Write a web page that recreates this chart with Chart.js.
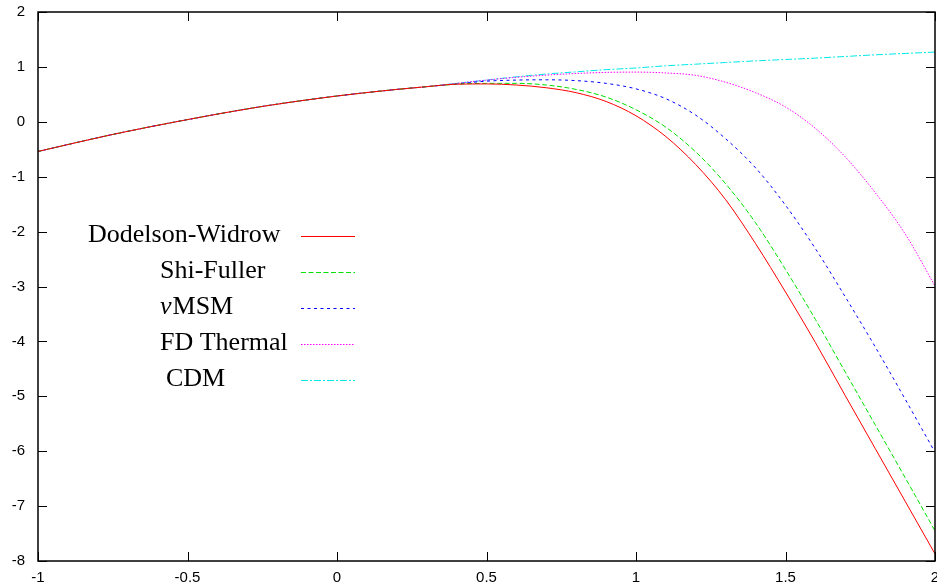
<!DOCTYPE html>
<html>
<head>
<meta charset="utf-8">
<script src="https://cdn.jsdelivr.net/npm/chart.js@4"></script>
<style>
  body { margin: 0; background: #fff; }
  canvas { display: block; }
</style>
</head>
<body>
<canvas id="spectrumChart" width="937" height="586"></canvas>
<script>
/* ---------- DATA ---------- */
const xValues = [-1, -0.75, -0.5, -0.25, 0, 0.2, 0.3, 0.4, 0.5, 0.6, 0.7, 0.8, 0.9, 1.0, 1.1, 1.2, 1.3, 1.4, 1.5, 1.6, 1.7, 1.8, 1.9, 2.0];

const dodelsonWidrow = [-0.54, -0.23, 0.04, 0.28, 0.47, 0.59, 0.64, 0.685, 0.69, 0.67, 0.62, 0.53, 0.37, 0.11, -0.27, -0.78, -1.42, -2.22, -3.10, -4.02, -4.99, -5.95, -6.91, -7.87];
const shiFuller      = [-0.54, -0.23, 0.04, 0.28, 0.47, 0.59, 0.64, 0.685, 0.70, 0.70, 0.67, 0.59, 0.45, 0.22, -0.10, -0.55, -1.13, -1.84, -2.69, -3.60, -4.56, -5.52, -6.48, -7.45];
const nuMSM          = [-0.54, -0.23, 0.04, 0.28, 0.47, 0.59, 0.64, 0.69, 0.74, 0.76, 0.765, 0.75, 0.70, 0.60, 0.42, 0.12, -0.31, -0.84, -1.52, -2.31, -3.19, -4.10, -5.05, -6.02];
const fdThermal      = [-0.54, -0.23, 0.04, 0.28, 0.47, 0.59, 0.64, 0.70, 0.76, 0.81, 0.85, 0.88, 0.90, 0.905, 0.89, 0.845, 0.72, 0.53, 0.27, -0.12, -0.64, -1.29, -2.04, -2.99];
const cdm            = [-0.54, -0.23, 0.04, 0.28, 0.47, 0.59, 0.64, 0.70, 0.76, 0.82, 0.87, 0.91, 0.95, 0.98, 1.02, 1.05, 1.08, 1.11, 1.135, 1.16, 1.19, 1.22, 1.245, 1.27];

const seriesLabels = ["Dodelson-Widrow", "Shi-Fuller", "\u03BDMSM", "FD Thermal", "CDM"];
const xTicks = [-1, -0.5, 0, 0.5, 1, 1.5, 2];
const yTicks = [-8, -7, -6, -5, -4, -3, -2, -1, 0, 1, 2];

/* ---------- HELPERS ---------- */
function toPoints(ys) {
  return xValues.map((x, i) => ({ x: x, y: ys[i] }));
}

function makeSet(label, ys, color, dash) {
  return {
    label: label,
    data: toPoints(ys),
    borderColor: color,
    borderWidth: 1,
    borderDash: dash,
    pointRadius: 0,
    fill: false,
    cubicInterpolationMode: "monotone"
  };
}

/* ---------- LEGEND + FRAME PLUGIN ---------- */
const legendTextX = [88, 160, 160, 160, 166];
const legendFont = "26px 'Liberation Serif'";

const gnuplotFrame = {
  id: "gnuplotFrame",
  afterDatasetsDraw(chart) {
    const ctx = chart.ctx;
    const area = chart.chartArea;
    const xs = chart.scales.x;
    const ys = chart.scales.y;

    ctx.save();
    ctx.strokeStyle = "#000";
    ctx.lineWidth = 1.5;
    ctx.setLineDash([]);
    ctx.strokeRect(area.left, area.top, area.right - area.left, area.bottom - area.top);

    // inward ticks, mirrored
    ctx.lineWidth = 1;
    ctx.beginPath();
    xTicks.forEach(v => {
      const px = Math.round(xs.getPixelForValue(v)) + 0.5;
      ctx.moveTo(px, area.bottom);
      ctx.lineTo(px, area.bottom - 9);
      ctx.moveTo(px, area.top);
      ctx.lineTo(px, area.top + 9);
    });
    yTicks.forEach(v => {
      const py = Math.round(ys.getPixelForValue(v)) + 0.5;
      ctx.moveTo(area.left, py);
      ctx.lineTo(area.left + 9, py);
      ctx.moveTo(area.right, py);
      ctx.lineTo(area.right - 9, py);
    });
    ctx.stroke();

    // legend
    ctx.textBaseline = "alphabetic";
    ctx.fillStyle = "#000";
    chart.data.datasets.forEach((ds, i) => {
      const base = 242 + i * 36;
      const tx = legendTextX[i];
      if (ds.label.charAt(0) === "\u03BD") {
        ctx.font = "italic " + legendFont;
        ctx.fillText("\u03BD", tx, base);
        const w = ctx.measureText("\u03BD").width;
        ctx.font = legendFont;
        ctx.fillText(ds.label.slice(1), tx + w + 1, base);
      } else {
        ctx.font = legendFont;
        ctx.fillText(ds.label, tx, base);
      }

      ctx.strokeStyle = ds.borderColor;
      ctx.lineWidth = 1;
      ctx.setLineDash(ds.borderDash || []);
      ctx.beginPath();
      ctx.moveTo(301, base - 5.5);
      ctx.lineTo(355, base - 5.5);
      ctx.stroke();
    });
    ctx.restore();
  }
};

/* ---------- CHART ---------- */
new Chart(document.getElementById("spectrumChart"), {
  type: "line",
  data: {
    datasets: [
      makeSet(seriesLabels[0], dodelsonWidrow, "#ff0000", []),
      makeSet(seriesLabels[1], shiFuller, "#00e000", [5, 2.5]),
      makeSet(seriesLabels[2], nuMSM, "#0000ff", [3, 3.5]),
      makeSet(seriesLabels[3], fdThermal, "#ff00ff", [1.5, 1.5]),
      makeSet(seriesLabels[4], cdm, "#00e8e8", [7, 2, 2, 2])
    ]
  },
  options: {
    responsive: false,
    animation: false,
    layout: { padding: { left: 0, right: 2, top: 12, bottom: 0 } },
    plugins: {
      legend: { display: false },
      tooltip: { enabled: false }
    },
    scales: {
      x: {
        type: "linear",
        min: -1,
        max: 2,
        afterBuildTicks: scale => { scale.ticks = xTicks.map(v => ({ value: v })); },
        afterFit: scale => {
          scale.height = 25;
          scale.paddingLeft = 0;
          scale.paddingRight = 0;
        },
        grid: { display: false, drawTicks: false },
        border: { display: false },
        ticks: {
          padding: 8,
          color: "#000",
          maxRotation: 0,
          font: { family: "'Liberation Sans'", size: 15 },
          callback: v => String(v)
        }
      },
      y: {
        type: "linear",
        min: -8,
        max: 2,
        afterBuildTicks: scale => { scale.ticks = yTicks.map(v => ({ value: v })); },
        afterFit: scale => {
          scale.width = 38;
          scale.paddingTop = 0;
          scale.paddingBottom = 0;
        },
        grid: { display: false, drawTicks: false },
        border: { display: false },
        ticks: {
          padding: 13,
          color: "#000",
          font: { family: "'Liberation Sans'", size: 15 },
          callback: v => String(v)
        }
      }
    }
  },
  plugins: [gnuplotFrame]
});
</script>
</body>
</html>
